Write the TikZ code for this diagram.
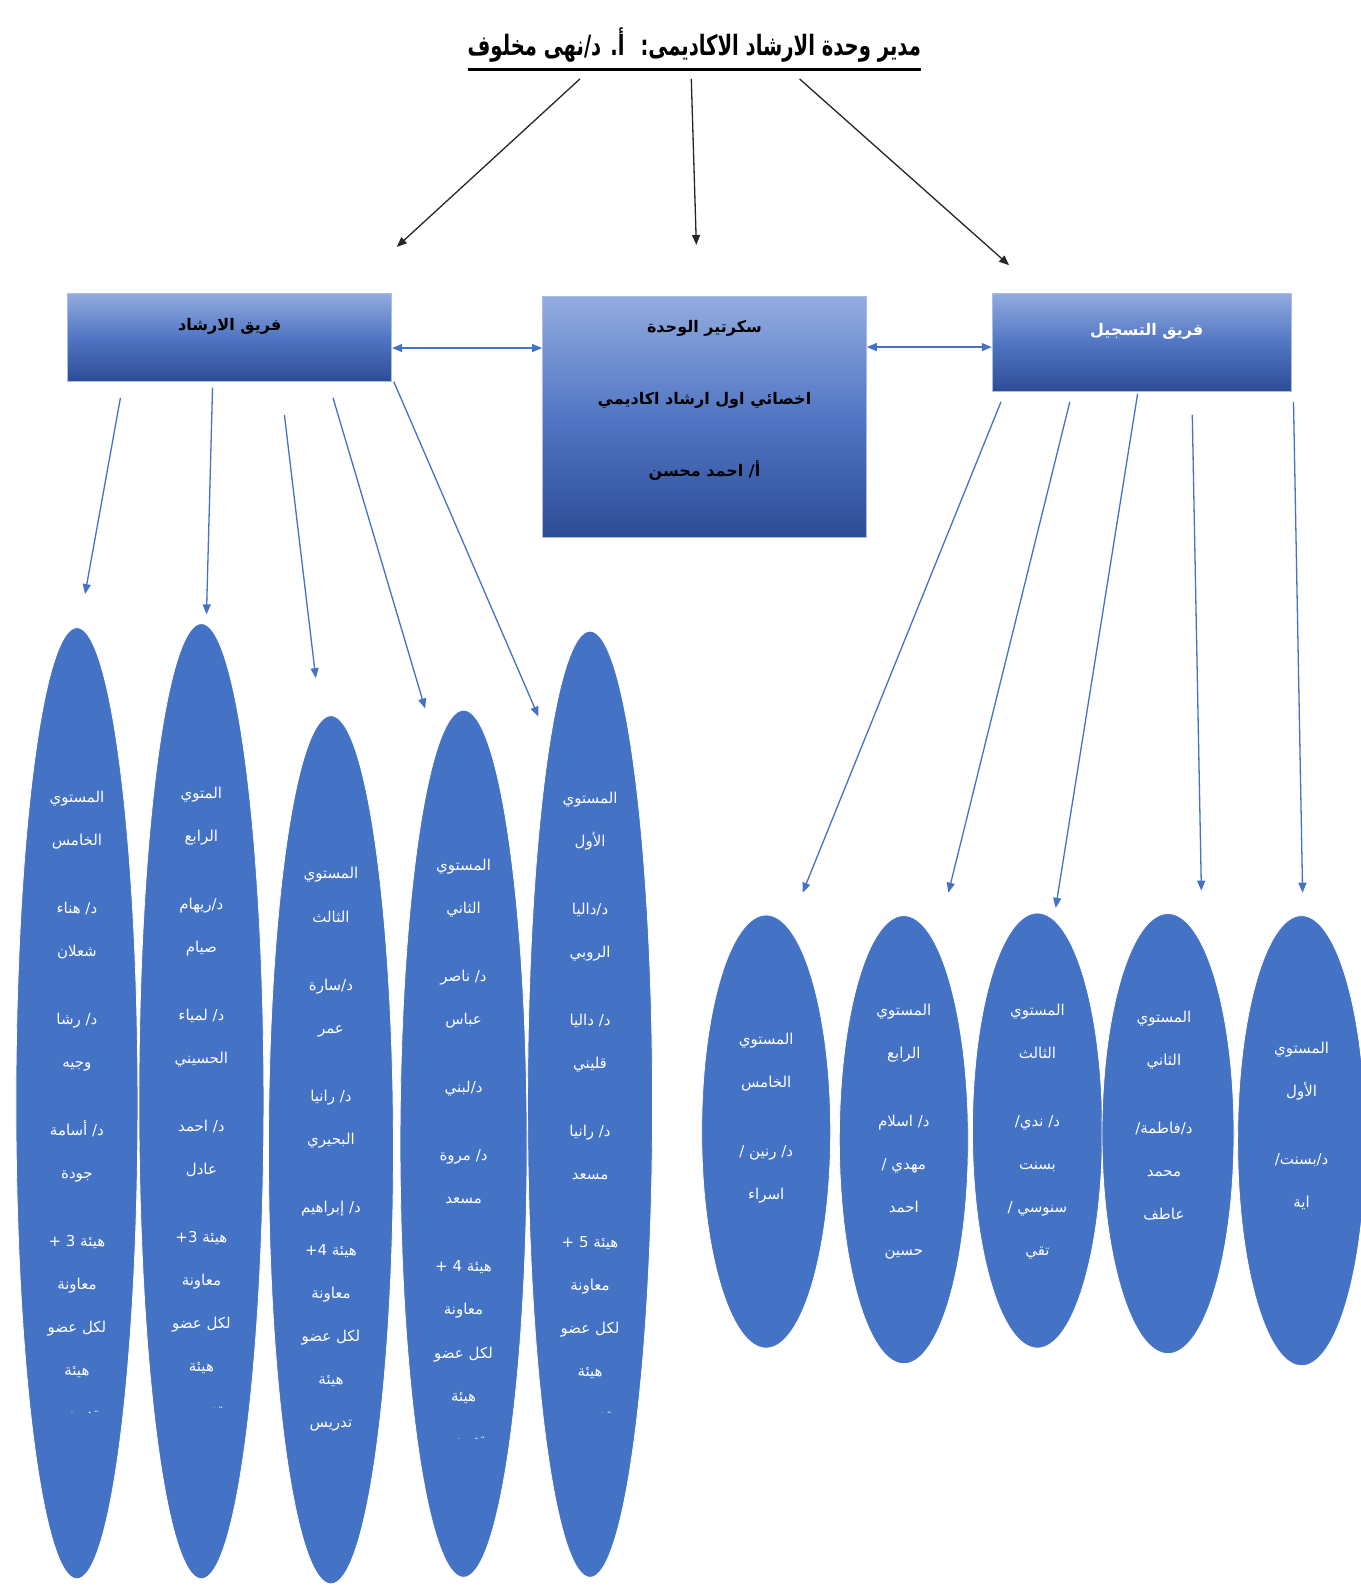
\documentclass[tikz,border=0pt]{standalone}
\usepackage{fontspec}
\usepackage{graphicx}
\usetikzlibrary{shapes.geometric, arrows.meta}
\TeXXeTstate=1
\newfontfamily\arabicfont[Script=Arabic]{DejaVu Sans}
\newcommand{\artext}[1]{\beginR#1\endR}
\definecolor{office-blue}{HTML}{4472C4}
\definecolor{team-top}{HTML}{93ACDF}
\definecolor{team-mid}{HTML}{5276C4}
\definecolor{team-bottom}{HTML}{2D4C96}
\definecolor{team-edge}{HTML}{A9BDE6}
\tikzset{
  teambox/.style={draw=team-edge, line width=0.6pt, top color=team-top,
    bottom color=team-bottom, middle color=team-mid},
  teamtext/.style={font=\arabicfont\bfseries\fontsize{16}{72}\selectfont, align=center},
  lvl/.style={ellipse, draw=white, line width=0.8pt, fill=office-blue},
  lvltext/.style={text=white, align=center, anchor=north,
    font=\arabicfont\fontsize{15}{43}\selectfont},
  chiefarrow/.style={-{Triangle[length=10pt,width=8pt]}, line width=1.3pt, black!85},
  leadarrow/.style={-{Triangle[length=10pt,width=8pt]}, line width=1.3pt, office-blue},
  twoway/.style={{Triangle[length=10pt,width=8pt]}-{Triangle[length=10pt,width=8pt]},
    line width=1.3pt, office-blue},
}

\begin{document}
\begin{tikzpicture}[x=1.0119pt, y=-1.0119pt, every node/.style={inner sep=0pt}]
  \path[use as bounding box, fill=white] (0,0) rectangle (1344,1568);

  % head of the unit
  \node[anchor=base, font=\arabicfont\bfseries\fontsize{28}{32}\selectfont] (chief) at (686,55)
    {\scalebox{0.7}[1]{\artext{مدير وحدة الارشاد الاكاديمى:\hspace{10pt} أ. د/نهى مخلوف}}};
  \draw[line width=3.5pt] ([yshift=-14pt]chief.base west) -- ([yshift=-14pt]chief.base east);

  % the three teams
  \node[teambox, minimum width=324, minimum height=88] (guide) at (227,333) {};
  \node[teamtext] (guideT) at (227,322) {\artext{فريق الارشاد}};
  \node[teambox, minimum width=324, minimum height=241] (sec) at (696,412) {};
  \node[teamtext] (secT) at (696,396)
    {\artext{سكرتير الوحدة}\\ \artext{اخصائي اول ارشاد اكاديمي}\\ \artext{أ/ احمد محسن}};
  \node[teambox, minimum width=299, minimum height=98] (reg) at (1128,338) {};
  \node[teamtext, text=white] (regT) at (1133,327) {\artext{فريق التسجيل}};

  \coordinate (hA) at (573,78);  \coordinate (hA') at (392,244);
  \coordinate (hB) at (683,78);  \coordinate (hB') at (688,242);
  \coordinate (hC) at (790,78);  \coordinate (hC') at (997,262);
  \draw[chiefarrow] (hA) -- (hA');
  \draw[chiefarrow] (hB) -- (hB');
  \draw[chiefarrow] (hC) -- (hC');

  \coordinate (gE) at ([yshift=-11pt]guide.east);
  \draw[twoway] (gE) -- (gE -| sec.west);
  \coordinate (rW) at ([yshift=-5pt]reg.west);
  \draw[twoway] (rW -| sec.east) -- (rW);

  % guidance levels
  \node[lvl, minimum width=122, minimum height=951] (lvA) at (76,1090) {};
  \node[lvl, minimum width=125, minimum height=955] (lvB) at (199,1088) {};
  \node[lvl, minimum width=125, minimum height=868] (lvC) at (327,1136) {};
  \node[lvl, minimum width=127, minimum height=867] (lvD) at (458,1130) {};
  \node[lvl, minimum width=125, minimum height=946] (lvE) at (583,1091) {};

  \begin{scope}
    \clip (0,600) rectangle (1344,1396);
    \node[lvltext] (txA) at (76,781)
      {\artext{المستوي}\\ \artext{الخامس}\\[25pt]
       \artext{د/ هناء}\\ \artext{شعلان}\\[25pt]
       \artext{د/ رشا}\\ \artext{وجيه}\\[25pt]
       \artext{د/ أسامة}\\ \artext{جودة}\\[25pt]
       \artext{هيئة \beginL+ 3\endL}\\ \artext{معاونة}\\ \artext{لكل عضو}\\
       \artext{هيئة}\\ \artext{تدريس}};
    \node[lvltext] (txE) at (583,782)
      {\artext{المستوي}\\ \artext{الأول}\\[25pt]
       \artext{د/داليا}\\ \artext{الروبي}\\[25pt]
       \artext{د/ داليا}\\ \artext{قليني}\\[25pt]
       \artext{د/ رانيا}\\ \artext{مسعد}\\[25pt]
       \artext{هيئة \beginL+ 5\endL}\\ \artext{معاونة}\\ \artext{لكل عضو}\\
       \artext{هيئة}\\ \artext{تدريس}};
  \end{scope}
  \begin{scope}
    \clip (0,600) rectangle (1344,1391);
    \node[lvltext] (txB) at (199,777)
      {\artext{المتوي}\\ \artext{الرابع}\\[25pt]
       \artext{د/ريهام}\\ \artext{صيام}\\[25pt]
       \artext{د/ لمياء}\\ \artext{الحسيني}\\[25pt]
       \artext{د/ احمد}\\ \artext{عادل}\\[25pt]
       \artext{هيئة \beginL+\kern0pt 3\endL}\\ \artext{معاونة}\\ \artext{لكل عضو}\\
       \artext{هيئة}\\ \artext{تدريس}};
  \end{scope}
  \node[lvltext] (txC) at (327,857)
    {\artext{المستوي}\\ \artext{الثالث}\\[25pt]
     \artext{د/سارة}\\ \artext{عمر}\\[25pt]
     \artext{د/ رانيا}\\ \artext{البحيري}\\[25pt]
     \artext{د/ إبراهيم}\\ \artext{هيئة \beginL+\kern0pt 4\endL}\\ \artext{معاونة}\\
     \artext{لكل عضو}\\ \artext{هيئة}\\ \artext{تدريس}};
  \begin{scope}
    \clip (0,600) rectangle (1344,1421);
    \node[lvltext] (txD) at (458,849)
      {\artext{المستوي}\\ \artext{الثاني}\\[25pt]
       \artext{د/ ناصر}\\ \artext{عباس}\\[25pt]
       \artext{د/لبني}\\[25pt]
       \artext{د/ مروة}\\ \artext{مسعد}\\[25pt]
       \artext{هيئة \beginL+ 4\endL}\\ \artext{معاونة}\\ \artext{لكل عضو}\\
       \artext{هيئة}\\ \artext{تدريس}};
  \end{scope}

  \coordinate (gA) at (119,393);  \coordinate (gA') at (84,587);
  \coordinate (gB) at (210,383);  \coordinate (gB') at (204,607);
  \coordinate (gC) at (281,410);  \coordinate (gC') at (312,670);
  \coordinate (gD) at (329,393);  \coordinate (gD') at (420,700);
  \coordinate (gF) at (389,377);  \coordinate (gF') at (532,708);
  \draw[leadarrow] (gA) -- (gA');
  \draw[leadarrow] (gB) -- (gB');
  \draw[leadarrow] (gC) -- (gC');
  \draw[leadarrow] (gD) -- (gD');
  \draw[leadarrow] (gF) -- (gF');

  % registration levels
  \node[lvl, minimum width=129, minimum height=433] (rgA) at (757,1118) {};
  \node[lvl, minimum width=129, minimum height=448] (rgB) at (893,1126) {};
  \node[lvl, minimum width=130, minimum height=435] (rgC) at (1025,1117) {};
  \node[lvl, minimum width=132, minimum height=440] (rgD) at (1154,1120) {};
  \node[lvl, minimum width=128, minimum height=450] (rgE) at (1286,1127) {};

  \node[lvltext] (trA) at (757,1021)
    {\artext{المستوي}\\ \artext{الخامس}\\[25pt] \artext{د/ رنين /}\\ \artext{اسراء}};
  \node[lvltext] (trB) at (893,992)
    {\artext{المستوي}\\ \artext{الرابع}\\[25pt] \artext{د/ اسلام}\\ \artext{مهدي /}\\
     \artext{احمد}\\ \artext{حسين}};
  \node[lvltext] (trC) at (1025,992)
    {\artext{المستوي}\\ \artext{الثالث}\\[25pt] \artext{د/ ندي/}\\ \artext{بسنت}\\
     \artext{سنوسي /}\\ \artext{تقي}};
  \node[lvltext] (trD) at (1150,999)
    {\artext{المستوي}\\ \artext{الثاني}\\[25pt] \artext{د/فاطمة/}\\ \artext{محمد}\\
     \artext{عاطف}};
  \node[lvltext] (trE) at (1286,1029)
    {\artext{المستوي}\\ \artext{الأول}\\[25pt] \artext{د/بسنت/}\\ \artext{اية}};

  \coordinate (rA) at (989,397);   \coordinate (rA') at (793,882);
  \coordinate (rB) at (1057,397);  \coordinate (rB') at (937,882);
  \coordinate (rC) at (1124,389);  \coordinate (rC') at (1043,897);
  \coordinate (rD) at (1178,410);  \coordinate (rD') at (1187,880);
  \coordinate (rE) at (1278,397);  \coordinate (rE') at (1287,882);
  \draw[leadarrow] (rA) -- (rA');
  \draw[leadarrow] (rB) -- (rB');
  \draw[leadarrow] (rC) -- (rC');
  \draw[leadarrow] (rD) -- (rD');
  \draw[leadarrow] (rE) -- (rE');
\end{tikzpicture}
\end{document}
